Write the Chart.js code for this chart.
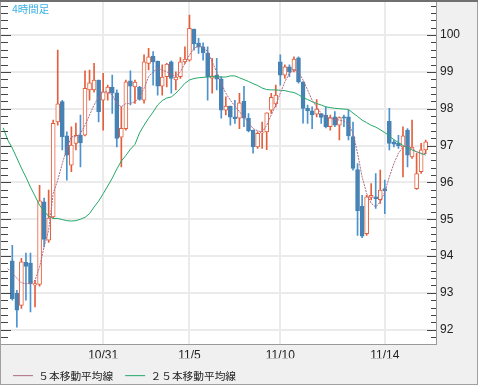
<!DOCTYPE html>
<html lang="ja">
<head>
<meta charset="UTF-8">
<title>4時間足</title>
<script src="https://cdn.jsdelivr.net/npm/chart.js"></script>
<style>
  html, body { margin: 0; padding: 0; background: #f0f0f0; }
  #wrap { position: relative; width: 478px; height: 385px; }
  #title { position: absolute; left: 12px; top: 3px; font: 10.5px/12px "Noto Sans CJK JP", sans-serif; color: #3ab0e6; }
</style>
</head>
<body>
<div id="wrap">
  <canvas id="c" width="478" height="385"></canvas>
  <div id="title">4時間足</div>
</div>
<script>
// x 位置 = 足番号（先頭2本は画面外の移動平均のみ）
const dateLabels = ['10/31', '11/5', '11/10', '11/14'];
const datePos = [22, 41, 61, 84];
const yLabels = [92, 93, 94, 95, 96, 97, 98, 99, 100];

const opens = [null, null,
  93.87, 92.99, 92.66, 93.83, 93.81, 93.21, 93.23, 95.47, 94.43, 95.06,
  97.64, 98.19, 97.26, 96.47, 97.06, 97.28, 97.28, 98.51, 98.51, 98.78,
  98.23, 98.42, 98.59, 98.43, 97.23, 97.46, 98.76, 98.59, 98.59, 98.23,
  99.23, 99.43, 99.29, 98.61, 98.87, 99.27, 98.78, 98.87, 99.27, 99.32,
  100.16, 99.78, 99.68, 99.51, 98.83, 98.91, 98.81, 97.96, 98.07, 97.78,
  97.74, 98.20, 97.74, 97.42, 96.96, 97.34, 97.37, 97.96, 98.13, 99.27,
  98.91, 99.14, 99.05, 99.38, 98.73, 98.01, 97.94, 97.85, 97.87, 97.83,
  97.51, 97.78, 97.55, 97.78, 97.78, 97.24, 96.35, 95.35, 94.61, 95.59,
  95.61, 95.53, 95.83, 97.66, 97.10, 97.06, 96.96, 97.42, 96.69, 95.83,
  96.29, 96.88];
const highs = [null, null,
  94.29, 93.07, 93.94, 94.08, 94.08, 93.34, 95.92, 95.57, 95.79, 97.69,
  99.59, 98.23, 97.37, 97.51, 97.61, 97.83, 99.03, 99.05, 99.23, 98.78,
  98.96, 98.64, 98.91, 98.51, 98.05, 98.78, 99.03, 98.78, 98.61, 99.46,
  99.64, 99.55, 99.29, 99.19, 99.23, 99.30, 99.00, 99.39, 99.68, 100.54,
  100.16, 99.91, 99.79, 99.68, 99.37, 99.37, 98.87, 98.32, 98.07, 98.23,
  98.42, 98.61, 97.87, 97.42, 97.37, 97.64, 97.89, 98.42, 98.64, 99.46,
  99.19, 99.19, 99.41, 99.41, 98.73, 98.10, 98.05, 98.25, 97.87, 98.05,
  97.83, 97.92, 97.78, 97.83, 97.96, 97.64, 96.51, 95.65, 95.65, 95.97,
  96.24, 96.33, 96.06, 98.01, 97.15, 97.28, 97.51, 97.46, 97.69, 96.79,
  97.06, 97.15];
const lows = [null, null,
  92.80, 92.07, 92.58, 92.80, 92.48, 92.62, 93.18, 94.25, 94.37, 95.03,
  97.55, 96.88, 96.06, 96.29, 96.88, 96.42, 97.26, 98.23, 98.45, 97.64,
  97.42, 98.23, 97.87, 96.96, 96.42, 97.42, 98.10, 98.14, 98.23, 98.15,
  99.05, 98.64, 98.37, 98.37, 98.59, 98.42, 98.51, 98.82, 99.23, 99.29,
  99.59, 99.50, 99.32, 98.23, 98.42, 98.51, 97.74, 97.83, 97.55, 97.60,
  97.46, 97.51, 97.37, 96.79, 96.92, 96.92, 96.89, 97.87, 98.05, 98.64,
  98.82, 98.87, 99.00, 98.69, 97.61, 97.60, 97.46, 97.78, 97.60, 97.48,
  97.42, 97.51, 97.15, 97.51, 97.15, 96.33, 94.56, 94.50, 94.56, 95.52,
  95.29, 95.43, 95.15, 96.88, 96.96, 96.92, 96.15, 96.42, 96.65, 95.81,
  96.24, 96.78];
const closes = [null, null,
  92.84, 92.53, 93.84, 93.72, 93.25, 93.25, 95.50, 94.45, 95.03, 97.60,
  98.13, 97.24, 96.74, 97.01, 97.28, 97.07, 98.55, 98.70, 98.78, 97.92,
  98.46, 98.59, 98.42, 97.19, 97.47, 98.73, 98.61, 98.72, 98.25, 99.27,
  99.41, 99.27, 98.61, 98.86, 99.21, 98.82, 98.86, 99.27, 99.35, 100.18,
  99.76, 99.67, 99.52, 98.86, 98.89, 98.80, 97.96, 98.07, 97.77, 97.73,
  98.16, 97.74, 97.40, 96.96, 97.33, 97.37, 97.89, 98.31, 98.37, 98.91,
  99.14, 99.00, 99.35, 98.73, 98.01, 97.94, 97.83, 97.99, 97.76, 97.51,
  97.76, 97.55, 97.76, 97.74, 97.26, 96.38, 95.23, 94.54, 95.61, 95.65,
  95.56, 95.79, 95.77, 97.06, 97.04, 96.99, 97.26, 96.74, 96.96, 96.24,
  96.88, 97.10];

const ma5 = [null, 93.66,
  93.53, 93.40, 93.27, 93.25, 93.25, 93.34, 93.70, 94.25, 94.70, 95.70,
  96.06, 96.51, 96.92, 97.24, 97.24, 97.33, 97.55, 97.83, 98.10, 98.32,
  98.46, 98.46, 98.37, 98.14, 98.05, 98.14, 98.14, 98.19, 98.32, 98.55,
  98.87, 99.00, 99.10, 99.05, 99.00, 98.94, 98.87, 99.00, 99.23, 99.46,
  99.64, 99.70, 99.67, 99.55, 99.27, 99.00, 98.69, 98.42, 98.23, 98.07,
  97.92, 97.78, 97.62, 97.46, 97.40, 97.37, 97.55, 97.83, 98.10, 98.42,
  98.73, 98.96, 99.05, 99.00, 98.78, 98.51, 98.23, 98.05, 97.87, 97.78,
  97.74, 97.71, 97.69, 97.67, 97.60, 97.33, 96.79, 96.15, 95.70, 95.43,
  95.33, 95.47, 95.74, 96.15, 96.51, 96.79, 96.96, 97.01, 96.92, 96.83,
  96.77, 96.79];
const ma25 = [97.48, 97.15,
  96.93, 96.66, 96.39, 96.14, 95.87, 95.63, 95.38, 95.22, 95.08, 95.02,
  95.02, 94.99, 94.96, 94.95, 94.96, 95.00, 95.05, 95.15, 95.33, 95.49,
  95.69, 95.90, 96.11, 96.36, 96.58, 96.73, 96.90, 97.03, 97.34, 97.55,
  97.74, 97.91, 98.10, 98.22, 98.29, 98.32, 98.42, 98.55, 98.69, 98.78,
  98.82, 98.84, 98.85, 98.86, 98.87, 98.87, 98.86, 98.86, 98.89, 98.89,
  98.84, 98.79, 98.74, 98.68, 98.63, 98.56, 98.52, 98.51, 98.51, 98.50,
  98.49, 98.46, 98.44, 98.38, 98.30, 98.25, 98.19, 98.14, 98.10, 98.05,
  98.03, 98.01, 98.00, 97.99, 97.98, 97.88, 97.79, 97.69, 97.62, 97.55,
  97.50, 97.43, 97.35, 97.26, 97.16, 97.08, 97.00, 96.94, 96.88, 96.83,
  96.79, 96.74];

const UP = '#e4603d';
const DOWN = '#4682b4';
const DOWN_WICK = '#4b93cf';

const idx = opens.map((o, i) => i).filter(i => opens[i] !== null);
const isUp = i => closes[i] >= opens[i];

const bodies = idx.map(i => ({ x: i, y: [opens[i], closes[i]] }));
const wicks = idx.map(i => ({ x: i, y: [lows[i], highs[i]] }));
const line = arr => arr.map((v, i) => ({ x: i, y: v })).filter(p => p.y !== null);

const framePlugin = {
  id: 'frame',
  beforeDraw(chart) {
    const { ctx, chartArea: a } = chart;
    ctx.save();
    ctx.fillStyle = '#f0f0f0';
    ctx.fillRect(0, 0, chart.width, chart.height);
    ctx.fillStyle = '#ffffff';
    ctx.fillRect(a.left, a.top, a.right - a.left, a.bottom - a.top);
    ctx.restore();
  },
  afterDraw(chart) {
    const { ctx, chartArea: a } = chart;
    const y = chart.scales.y;
    ctx.save();
    ctx.strokeStyle = '#444';
    ctx.lineWidth = 1;
    for (let v = Math.ceil(y.min * 5); v <= y.max * 5; v++) {
      const py = Math.round(y.getPixelForValue(v / 5)) + 0.5;
      const major = v % 5 === 0;
      ctx.beginPath();
      ctx.moveTo(a.left, py);
      ctx.lineTo(a.left + (major ? 10 : 7), py);
      ctx.moveTo(a.right, py);
      ctx.lineTo(a.right - (major ? 9 : 5), py);
      ctx.stroke();
    }
    ctx.strokeStyle = '#a0a0a0';
    ctx.strokeRect(0.5, 0.5, chart.width - 1, chart.height - 1);
    ctx.fillStyle = '#707070';
    ctx.fillRect(0, 0, chart.width, 2);
    ctx.restore();
  }
};

new Chart(document.getElementById('c'), {
  type: 'bar',
  data: {
    datasets: [
      {
        label: 'body',
        data: bodies,
        order: 1,
        grouped: false,
        barThickness: 4,
        minBarLength: 1,
        borderWidth: 1,
        borderSkipped: false,
        borderColor: idx.map(i => isUp(i) ? UP : DOWN),
        backgroundColor: idx.map(i => isUp(i) ? '#ffffff' : DOWN)
      },
      {
        label: 'wick',
        data: wicks,
        order: 2,
        grouped: false,
        barThickness: 1,
        borderWidth: 0,
        backgroundColor: idx.map(i => isUp(i) ? UP : DOWN_WICK)
      },
      {
        type: 'line',
        label: '５本移動平均線',
        data: line(ma5),
        order: 0,
        borderColor: '#b06a88',
        borderWidth: 1,
        borderDash: [2, 1],
        pointRadius: 0,
        tension: 0
      },
      {
        type: 'line',
        label: '２５本移動平均線',
        data: line(ma25),
        order: 0,
        borderColor: '#24a86a',
        borderWidth: 1,
        pointRadius: 0,
        tension: 0
      }
    ]
  },
  options: {
    responsive: false,
    devicePixelRatio: 1,
    animation: false,
    layout: { padding: { left: 1, right: 2, top: 2, bottom: -6 } },
    scales: {
      x: {
        type: 'linear',
        min: -0.49,
        max: 95.27,
        offset: false,
        afterBuildTicks: s => { s.ticks = datePos.map(v => ({ value: v })); },
        afterFit: s => { s.height = 14; s.paddingLeft = 0; s.paddingRight = 0; },
        ticks: {
          autoSkip: false,
          maxRotation: 0,
          padding: 4,
          color: '#222',
          font: { family: 'Liberation Sans', size: 12 },
          callback: (v, i) => dateLabels[i]
        },
        grid: { color: '#ebebeb', lineWidth: 2, drawTicks: false, offset: false },
        border: { color: '#999', width: 1 }
      },
      y: {
        type: 'linear',
        position: 'right',
        min: 91.603,
        max: 100.897,
        afterBuildTicks: s => { s.ticks = yLabels.map(v => ({ value: v })); },
        afterFit: s => { s.width = 40; s.paddingTop = 0; s.paddingBottom = 0; },
        ticks: {
          padding: 4,
          color: '#222',
          font: { family: 'Liberation Sans', size: 12 },
          callback: v => String(v)
        },
        grid: { color: '#ebebeb', lineWidth: 2, drawTicks: false },
        border: { color: '#999', width: 1 }
      }
    },
    plugins: {
      tooltip: { enabled: false },
      legend: {
        position: 'bottom',
        align: 'start',
        labels: {
          filter: item => item.datasetIndex >= 2,
          usePointStyle: true,
          pointStyle: 'line',
          pointStyleWidth: 20,
          padding: 12,
          color: '#222',
          font: { family: 'Noto Sans CJK JP', size: 10.7 }
        }
      }
    }
  },
  plugins: [framePlugin]
});
</script>
</body>
</html>
